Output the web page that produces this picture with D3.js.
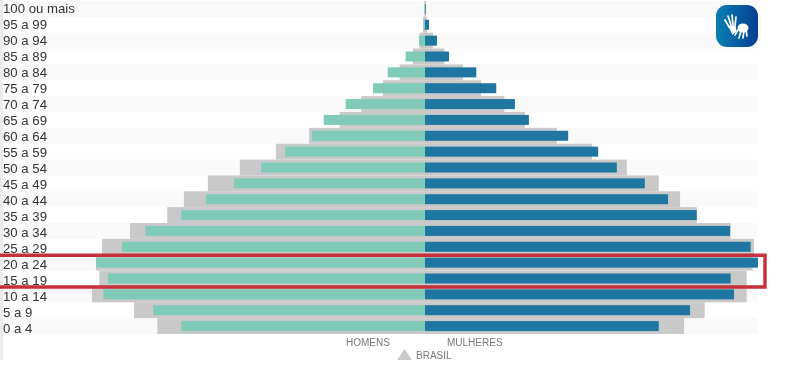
<!DOCTYPE html>
<html>
<head>
<meta charset="utf-8">
<script src="https://cdn.jsdelivr.net/npm/d3@7"></script>
<style>
  html, body { margin: 0; padding: 0; background: #fff; }
  svg { display: block; filter: blur(0.35px); }
</style>
</head>
<body>
<svg id="chart" width="800" height="372"></svg>
<script>
// age groups, top of the pyramid first
const ageGroups = ['100 ou mais', '95 a 99', '90 a 94', '85 a 89', '80 a 84', '75 a 79', '70 a 74',
    '65 a 69', '60 a 64', '55 a 59', '50 a 54', '45 a 49', '40 a 44', '35 a 39', '30 a 34',
    '25 a 29', '20 a 24', '15 a 19', '10 a 14', '5 a 9', '0 a 4'];

// share of the population, %
const homens = [0.01, 0.02, 0.09, 0.29, 0.56, 0.78, 1.19, 1.52, 1.70, 2.10, 2.46, 2.87, 3.29, 3.66, 4.20, 4.55, 4.94, 4.76, 4.83, 4.08, 3.66];
const mulheres = [0.01, 0.06, 0.18, 0.36, 0.77, 1.07, 1.35, 1.56, 2.15, 2.60, 2.88, 3.30, 3.65, 4.08, 4.58, 4.89, 5.00, 4.59, 4.64, 3.98, 3.51];
const brasilHomens = [0.01, 0.03, 0.08, 0.18, 0.38, 0.63, 0.96, 1.28, 1.74, 2.24, 2.78, 3.26, 3.62, 3.87, 4.43, 4.85, 4.94, 4.89, 5.00, 4.37, 4.02];
const brasilMulheres = [0.015, 0.03, 0.12, 0.29, 0.57, 0.84, 1.19, 1.50, 1.98, 2.51, 3.03, 3.51, 3.83, 4.08, 4.59, 4.94, 4.92, 4.83, 4.83, 4.20, 3.89];

const centerX = 425;
const svg = d3.select('#chart');

// one scale per side, both start at the center line
const xLeft = d3.scaleLinear().domain([0, 5]).range([centerX, centerX - 333]);
const xRight = d3.scaleLinear().domain([0, 5]).range([centerX, centerX + 333]);
const y = d3.scaleBand().domain(ageGroups).range([1, 334]).padding(0);

const barHeight = 10;
const barOffset = (y.bandwidth() - barHeight) / 2;

// left border of the frame
svg.append('rect').attr('x', 0).attr('y', 0).attr('width', 3).attr('height', 360).attr('fill', '#ececec');

// alternating row stripes
svg.append('g').selectAll('rect')
    .data(ageGroups.filter((d, i) => i % 2 == 0))
    .enter().append('rect')
    .attr('x', 3)
    .attr('y', d => y(d))
    .attr('width', 754)
    .attr('height', y.bandwidth())
    .attr('fill', '#f9f9f9');

// Brasil reference bars, grey
svg.append('g').selectAll('rect')
    .data(ageGroups)
    .enter().append('rect')
    .attr('x', (d, i) => xLeft(brasilHomens[i]))
    .attr('y', d => y(d))
    .attr('width', (d, i) => centerX - xLeft(brasilHomens[i]))
    .attr('height', y.bandwidth())
    .attr('fill', '#c9c9c9');

svg.append('g').selectAll('rect')
    .data(ageGroups)
    .enter().append('rect')
    .attr('x', centerX)
    .attr('y', d => y(d))
    .attr('width', (d, i) => xRight(brasilMulheres[i]) - centerX)
    .attr('height', y.bandwidth())
    .attr('fill', '#c9c9c9');

// men
svg.append('g').selectAll('rect')
    .data(ageGroups)
    .enter().append('rect')
    .attr('x', (d, i) => xLeft(homens[i]))
    .attr('y', d => y(d) + barOffset)
    .attr('width', (d, i) => centerX - xLeft(homens[i]))
    .attr('height', barHeight)
    .attr('fill', '#7fcbb8');

// women
svg.append('g').selectAll('rect')
    .data(ageGroups)
    .enter().append('rect')
    .attr('x', centerX)
    .attr('y', d => y(d) + barOffset)
    .attr('width', (d, i) => xRight(mulheres[i]) - centerX)
    .attr('height', barHeight)
    .attr('fill', '#1f76a0');

// age labels sit a touch off the bars in the original
const yLabels = d3.scalePoint().domain(ageGroups).range([8.5, 328.5]);
svg.append('g').selectAll('text')
    .data(ageGroups)
    .enter().append('text')
    .attr('x', 3)
    .attr('y', d => yLabels(d))
    .attr('dy', '0.35em')
    .attr('font-family', 'Liberation Sans, Arial, sans-serif')
    .attr('font-size', 13.2)
    .attr('fill', '#333')
    .text(d => d);

// highlight box around 15 to 24, open on the left
svg.append('path')
    .attr('d', 'M-5,255.2H765V287H-5')
    .attr('fill', 'none')
    .attr('stroke', '#c5303a')
    .attr('stroke-width', 3.4);

// legend
const legendText = (x, yPos, label) => svg.append('text')
    .attr('x', x).attr('y', yPos)
    .attr('font-family', 'Liberation Sans, Arial, sans-serif')
    .attr('font-size', 10)
    .attr('fill', '#777')
    .text(label);
legendText(346, 346, 'HOMENS');
legendText(447, 346, 'MULHERES');
legendText(416, 359, 'BRASIL');
svg.append('path').attr('d', 'M397,360L404.5,349L412,360Z').attr('fill', '#c9c9c9');

// sign language badge
const grad = svg.append('defs').append('linearGradient').attr('id', 'badge');
grad.append('stop').attr('offset', '0%').attr('stop-color', '#0a7fb3');
grad.append('stop').attr('offset', '100%').attr('stop-color', '#033f91');
svg.append('rect').attr('x', 716).attr('y', 5).attr('width', 42).attr('height', 42).attr('rx', 11).attr('fill', 'url(#badge)');

const hands = svg.append('g').attr('stroke', '#fff').attr('stroke-linecap', 'round').attr('fill', 'none');
[[725, 20, 729, 27], [728, 16, 731, 25], [732, 15, 733, 25], [736, 17, 735, 26]].forEach(f => {
    hands.append('line').attr('x1', f[0]).attr('y1', f[1]).attr('x2', f[2]).attr('y2', f[3]).attr('stroke-width', 1.7);
});
hands.append('path').attr('d', 'M729,26L735,26L736,31L733,34Z').attr('fill', '#fff').attr('stroke-width', 1);
hands.append('ellipse').attr('cx', 743).attr('cy', 28).attr('rx', 5.5).attr('ry', 4.5).attr('fill', '#fff').attr('stroke', 'none');
[[738, 30, 735, 35], [741, 31, 739, 38], [744, 31, 743, 38], [746, 30, 747, 36]].forEach(f => {
    hands.append('line').attr('x1', f[0]).attr('y1', f[1]).attr('x2', f[2]).attr('y2', f[3]).attr('stroke-width', 1.7);
});
</script>
</body>
</html>
